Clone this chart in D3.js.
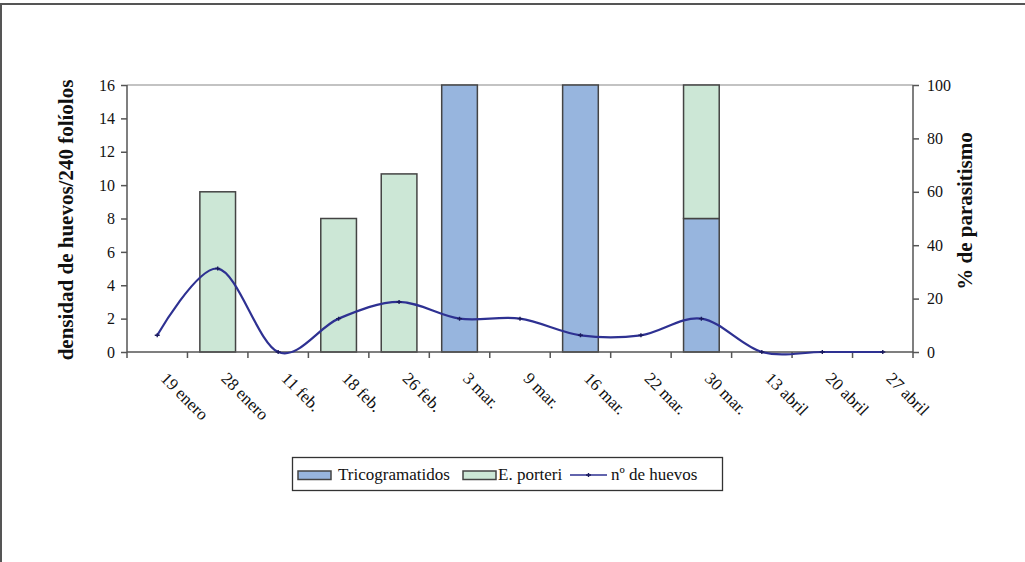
<!DOCTYPE html>
<html lang="es">
<head>
<meta charset="UTF-8">
<title>Huevos y parasitismo</title>
<script src="https://d3js.org/d3.v7.min.js"></script>
<style>
  body { margin: 0; background: #fff; }
  svg text { font-family: "Liberation Serif", "Times New Roman", serif; fill: #111; }
  .axis path, .axis line { stroke: #555; stroke-width: 1.5px; }
  .axis text { font-size: 16px; }
  .axis text.xl { font-size: 17px; }
</style>
</head>
<body>
<svg id="chart" width="1025" height="562"></svg>
<script>
// data
var fechas = ["19 enero", "28 enero", "11 feb.", "18 feb.", "26 feb.", "3 mar.", "9 mar.",
              "16 mar.", "22 mar.", "30 mar.", "13 abril", "20 abril", "27 abril"];
var tricogramatidos = [0, 0, 0, 0, 0, 100, 0, 100, 0, 50, 0, 0, 0];   // % parasitismo
var ePorteri        = [0, 60, 0, 50, 66.7, 0, 0, 0, 0, 50, 0, 0, 0];  // % parasitismo
var huevos          = [1, 5, 0, 2, 3, 2, 2, 1, 1, 2, 0, 0, 0];        // densidad
var leftTicks = [0, 2, 4, 6, 8, 10, 12, 14, 16];
var rightTicks = [0, 20, 40, 60, 80, 100];

var colTrico = "#97b5de", colPorteri = "#cce7d6", colLine = "#2e3192";

var svg = d3.select("#chart");
var pLeft = 127, pRight = 913, pTop = 85, pBottom = 352;

// outer frame (right and bottom edges fall outside the picture)
svg.append("rect").attr("x", 1).attr("y", 4).attr("width", 1040).attr("height", 580)
    .attr("fill", "none").attr("stroke", "#555").attr("stroke-width", 2);

var x = d3.scaleBand().domain(fechas).range([pLeft, pRight]).padding(0);
var yL = d3.scaleLinear().domain([0, 16]).range([pBottom, pTop]);
var yR = d3.scaleLinear().domain([0, 100]).range([pBottom, pTop]);

// plot area top line
svg.append("line").attr("x1", pLeft).attr("x2", pRight).attr("y1", pTop).attr("y2", pTop)
    .attr("stroke", "#888").attr("stroke-width", 1.2);

// stacked bars
var stackData = fechas.map(function(f, i) {
  return {fecha: f, t: tricogramatidos[i], p: ePorteri[i]};
});
var bw = x.bandwidth() * 0.59;
var bars = svg.append("g");
stackData.forEach(function(d) {
  var cx = x(d.fecha) + x.bandwidth() / 2;
  if (d.t > 0) {
    bars.append("rect").attr("x", cx - bw / 2).attr("width", bw)
      .attr("y", yR(d.t)).attr("height", yR(0) - yR(d.t))
      .attr("fill", colTrico).attr("stroke", "#444").attr("stroke-width", 1.5);
  }
  if (d.p > 0) {
    bars.append("rect").attr("x", cx - bw / 2).attr("width", bw)
      .attr("y", yR(d.t + d.p)).attr("height", yR(d.t) - yR(d.t + d.p))
      .attr("fill", colPorteri).attr("stroke", "#444").attr("stroke-width", 1.5);
  }
});

// axes
svg.append("g").attr("class", "axis").attr("transform", "translate(" + pLeft + ",0)")
  .call(d3.axisLeft(yL).tickValues(leftTicks).tickSize(6).tickPadding(6))
  .call(function(g) { g.select(".domain").attr("d", "M0," + pTop + "V" + pBottom); });

svg.append("g").attr("class", "axis").attr("transform", "translate(" + pRight + ",0)")
  .call(d3.axisRight(yR).tickValues(rightTicks).tickSize(6).tickPadding(8))
  .call(function(g) { g.select(".domain").attr("d", "M0," + pTop + "V" + pBottom); });

var xAxis = svg.append("g").attr("class", "axis").attr("transform", "translate(0," + pBottom + ")");
xAxis.append("line").attr("x1", pLeft).attr("x2", pRight).attr("y1", 0).attr("y2", 0);
xAxis.selectAll(".tk").data(fechas.concat(["__end"])).enter().append("line")
  .attr("x1", function(d, i) { return pLeft + i * x.step(); })
  .attr("x2", function(d, i) { return pLeft + i * x.step(); })
  .attr("y1", 0).attr("y2", 6);
xAxis.selectAll(".lbl").data(fechas).enter().append("text")
  .attr("class", "xl")
  .attr("transform", function(d) {
    return "translate(" + (x(d) + x.bandwidth() / 2 + 11) + ",19) rotate(45)";
  })
  .attr("dy", "0.71em").attr("text-anchor", "start").text(function(d) { return d; });

// smoothed line of egg density
var line = d3.line()
  .x(function(d, i) { return x(fechas[i]) + x.bandwidth() / 2; })
  .y(function(d) { return yL(d); })
  .curve(d3.curveCardinal.tension(0));
svg.append("path").datum(huevos).attr("d", line)
  .attr("fill", "none").attr("stroke", colLine).attr("stroke-width", 2.2);
svg.selectAll(".pt").data(huevos).enter().append("path")
  .attr("transform", function(d, i) {
    return "translate(" + (x(fechas[i]) + x.bandwidth() / 2) + "," + yL(d) + ")";
  })
  .attr("d", "M-2.5,0H2.5M0,-2V2").attr("stroke", "#1a1a5e").attr("stroke-width", 1.4);

// axis titles
svg.append("text").attr("transform", "translate(73,220) rotate(-90)")
  .attr("text-anchor", "middle").style("font-size", "21px").style("font-weight", "bold")
  .text("densidad de huevos/240 folíolos");
svg.append("text").attr("transform", "translate(972,211) rotate(-90)")
  .attr("text-anchor", "middle").style("font-size", "21px").style("font-weight", "bold")
  .text("% de parasitismo");

// legend
var lg = svg.append("g");
lg.append("rect").attr("x", 292.5).attr("y", 457.5).attr("width", 430).attr("height", 33)
  .attr("fill", "#fff").attr("stroke", "#333").attr("stroke-width", 1.3);
var items = [
  {type: "rect", fill: colTrico, label: "Tricogramatidos", x: 298, tx: 338},
  {type: "rect", fill: colPorteri, label: "E. porteri", x: 463, tx: 498},
  {type: "line", label: "nº de huevos", x: 570, tx: 611}
];
items.forEach(function(it) {
  if (it.type === "rect") {
    lg.append("rect").attr("x", it.x).attr("y", 471).attr("width", 33).attr("height", 8.5)
      .attr("fill", it.fill).attr("stroke", "#444").attr("stroke-width", 1.5);
  } else {
    lg.append("line").attr("x1", it.x).attr("x2", it.x + 37).attr("y1", 475).attr("y2", 475)
      .attr("stroke", colLine).attr("stroke-width", 1.5);
    lg.append("path").attr("transform", "translate(" + (it.x + 18.5) + ",475)")
      .attr("d", "M-2.5,0H2.5M0,-2V2").attr("stroke", "#1a1a5e").attr("stroke-width", 1.4);
  }
  lg.append("text").attr("x", it.tx).attr("y", 480).style("font-size", "17px").text(it.label);
});
</script>
</body>
</html>
